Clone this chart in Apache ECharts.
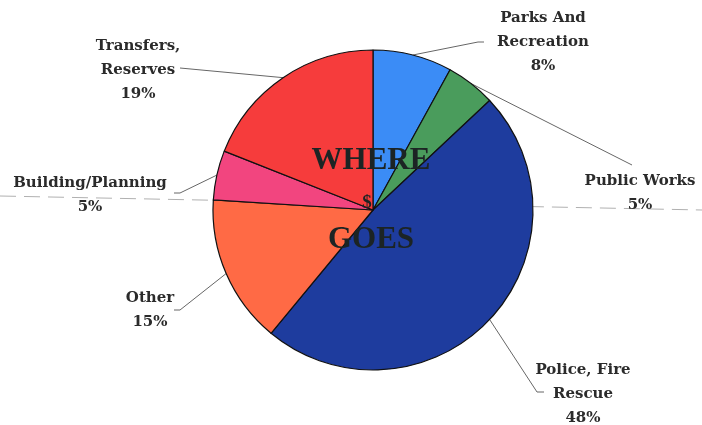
<!DOCTYPE html>
<html><head><meta charset="utf-8">
<script src="https://cdn.jsdelivr.net/npm/echarts@6/dist/echarts.min.js"></script>
<style>html,body{margin:0;padding:0;background:#fff}#c{width:702px;height:425px}</style>
</head><body><div id="c"></div>
<script>
const categories = ['Parks And\nRecreation', 'Public Works', 'Police, Fire\nRescue', 'Other', 'Building/Planning', 'Transfers,\nReserves'];
const values = [8, 5, 48, 15, 5, 19];
const colors = ['#3b8cf6', '#4a9c5c', '#1e3c9e', '#ff6a45', '#f2457f', '#f63c3c'];
// label anchor placements (layout only)
const labelPos = [[543, 42], [640, 193], [583, 394], [150, 310], [90, 195], [138, 70]];
const lineEnds = [[[478, 42], [484, 42]], [[632, 165]], [[537, 392], [544, 392]], [[180, 310], [174, 310]], [[180, 193], [174, 193]], [[180, 68]]];

const chart = echarts.init(document.getElementById('c'));
const shadow = { shadowBlur: 3, shadowColor: 'rgba(0,0,0,0.6)' };
chart.setOption({
  animation: false,
  graphic: [
    { type: 'line', z: -1, shape: { x1: 0, y1: 196, x2: 702, y2: 210 }, style: { stroke: '#b0b0b0', lineWidth: 1, lineDash: [16, 8] } },
    { type: 'text', z: 100, style: Object.assign({ text: 'WHERE', x: 371, y: 145, font: 'bold 31px "Liberation Serif"', fill: '#1c2424', textAlign: 'center' }, shadow) },
    { type: 'text', z: 100, style: Object.assign({ text: '$', x: 367, y: 194, font: 'bold 19px "Liberation Serif"', fill: '#1c2424', textAlign: 'center' }, shadow) },
    { type: 'text', z: 100, style: Object.assign({ text: 'GOES', x: 371, y: 224, font: 'bold 31px "Liberation Serif"', fill: '#1c2424', textAlign: 'center' }, shadow) }
  ],
  series: [{
    type: 'pie',
    center: [373, 210],
    radius: 160,
    startAngle: 90,
    clockwise: true,
    data: categories.map((n, i) => ({ name: n, value: values[i], itemStyle: { color: colors[i] } })),
    itemStyle: { borderColor: '#111', borderWidth: 1.2 },
    label: {
      show: true,
      formatter: '{b}\n{d}%',
      fontFamily: 'DejaVu Serif',
      fontWeight: 'bold',
      fontSize: 15,
      lineHeight: 24,
      color: '#2b2b2b',
      align: 'center'
    },
    labelLine: { show: true, lineStyle: { color: '#666', width: 1 } },
    labelLayout: function (p) {
      const i = p.dataIndex;
      const pts = [p.labelLinePoints[0]].concat(lineEnds[i]);
      return { x: labelPos[i][0], y: labelPos[i][1], align: 'center', verticalAlign: 'middle', labelLinePoints: pts };
    }
  }]
});
</script></body></html>
